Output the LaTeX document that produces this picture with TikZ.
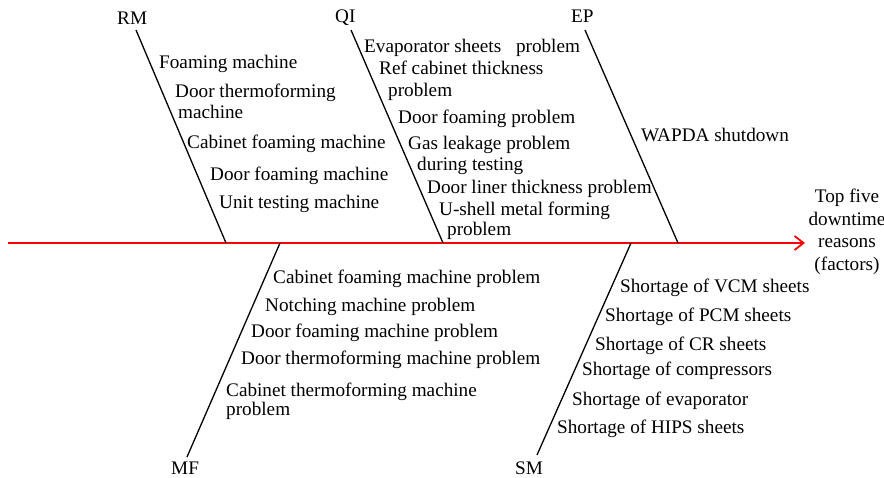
\documentclass[tikz,border=0pt]{standalone}
\usepackage{fontspec}
\setmainfont{Liberation Serif}
\usetikzlibrary{arrows.meta}
\newcommand\fsz{\fontsize{19.2}{21}\selectfont}
\newcommand\fszb{\fontsize{19.2}{22.5}\selectfont}
\begin{document}
\begin{tikzpicture}[x=1pt,y=-1pt,
  lbl/.style={anchor=base west,inner sep=0pt,font=\fsz},
  cat/.style={anchor=base west,inner sep=0pt,font=\fsz},
  bone/.style={draw=black,line width=1.3pt},
  spine/.style={draw=red,line width=1.8pt,-{Straight Barb[length=9pt,width=14pt,line width=1.8pt]}}]
\useasboundingbox (0,0) rectangle (884,478);
% spine
\coordinate (s0) at (8,243);
\coordinate (rmS) at (226,243);
\coordinate (qiS) at (443,243);
\coordinate (epS) at (678,243);
\coordinate (mfS) at (280,243);
\coordinate (smS) at (631,243);
\coordinate (tip) at (805,243);
\node[inner sep=0pt,align=center,font=\fszb,anchor=center] (eff) at (847,232) {Top five\\downtime\\reasons\\(factors)};
\draw[spine] (s0) -- (tip);
% category labels
\node[cat] (RM) at (117,25) {RM};
\node[cat] (QI) at (335,23) {QI};
\node[cat] (EP) at (571,23) {EP};
\node[cat] (MF) at (171,474) {MF};
\node[cat] (SM) at (515,474) {SM};
\coordinate (rmT) at (136,30);
\coordinate (qiT) at (351,30);
\coordinate (epT) at (585,30);
\coordinate (mfB) at (187,457);
\coordinate (smB) at (537,455);
\draw[bone] (rmT) -- (rmS);
\draw[bone] (qiT) -- (qiS);
\draw[bone] (epT) -- (epS);
\draw[bone] (mfB) -- (mfS);
\draw[bone] (smB) -- (smS);
% RM causes
\node[lbl] (rm1) at (159,69) {Foaming machine};
\node[lbl] (rm2) at (175,98) {Door thermoforming};
\node[lbl] (rm2b) at (178,119) {machine};
\node[lbl] (rm3) at (187,149) {Cabinet foaming machine};
\node[lbl] (rm4) at (210,181) {Door foaming machine};
\node[lbl] (rm5) at (219,209) {Unit testing machine};
% QI causes
\node[lbl] (qi1) at (364,53) {Evaporator sheets\hspace{10pt} problem};
\node[lbl] (qi2) at (379,75) {Ref cabinet thickness};
\node[lbl] (qi2b) at (388,97) {problem};
\node[lbl] (qi3) at (398,124) {Door foaming problem};
\node[lbl] (qi4) at (408,150) {Gas leakage problem};
\node[lbl] (qi4b) at (417,171) {during testing};
\node[lbl] (qi5) at (427,194) {Door liner thickness problem};
\node[lbl] (qi6) at (439,216) {U-shell metal forming};
\node[lbl] (qi6b) at (447,236) {problem};
% EP cause
\node[lbl] (ep1) at (641,142) {WAPDA shutdown};
% MF causes
\node[lbl] (mf1) at (273,284) {Cabinet foaming machine problem};
\node[lbl] (mf2) at (265,312) {Notching machine problem};
\node[lbl] (mf3) at (251,338) {Door foaming machine problem};
\node[lbl] (mf4) at (241,365) {Door thermoforming machine problem};
\node[lbl] (mf5) at (226,396) {Cabinet thermoforming machine};
\node[lbl] (mf5b) at (226,416) {problem};
% SM causes
\node[lbl] (sm1) at (620,293) {Shortage of VCM sheets};
\node[lbl] (sm2) at (605,322) {Shortage of PCM sheets};
\node[lbl] (sm3) at (595,351) {Shortage of CR sheets};
\node[lbl] (sm4) at (582,376) {Shortage of compressors};
\node[lbl] (sm5) at (572,406) {Shortage of evaporator};
\node[lbl] (sm6) at (557,433) {Shortage of HIPS sheets};
\end{tikzpicture}
\end{document}
